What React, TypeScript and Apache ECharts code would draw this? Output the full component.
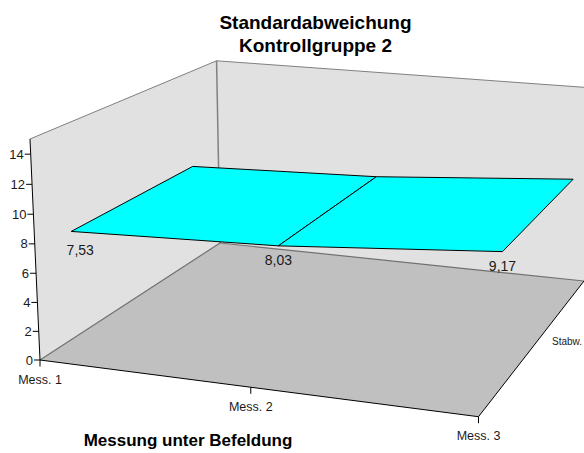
import React, { useEffect, useRef } from "react";
import * as echarts from "echarts";

const categories = ["Mess. 1", "Mess. 2", "Mess. 3"];
const stdDeviation = [7.53, 8.03, 9.17];
const valueTicks = [0, 2, 4, 6, 8, 10, 12, 14];
const depthLabel = "Stabw.";
const valueMax = 15;

const FONT = '"Liberation Sans", Arial, sans-serif';

// Perspective mapping of the unit box (u: category, v: value, w: depth) to the page.
const projX = [402.88, -10.93, 229.78, 40];
const projY = [25.68, -225.31, -62.02, 360];
const projD = [-0.07445, -0.031, 0.22625, 1];

const project = (u: number, v: number, w: number): [number, number] => {
  const den = projD[0] * u + projD[1] * v + projD[2] * w + projD[3];
  return [
    (projX[0] * u + projX[1] * v + projX[2] * w + projX[3]) / den,
    (projY[0] * u + projY[1] * v + projY[2] * w + projY[3]) / den,
  ];
};

const catU = (i: number) => i / (categories.length - 1);
const valV = (value: number) => value / valueMax;
const RIBBON_FRONT = 1 / 6;
const RIBBON_BACK = 5 / 6;

export default function App() {
  const ref = useRef<HTMLDivElement>(null);

  useEffect(() => {
    const chart = echarts.init(ref.current!, null, { renderer: "svg" });

    const toPts = (api: any, pts: [number, number, number][]) =>
      pts.map((p) => api.coord(project(p[0], p[1], p[2])));

    const poly = (points: number[][], fill: string) => ({
      type: "polygon",
      shape: { points },
      style: { fill, stroke: "none" },
    });
    const stroke = (a: number[], b: number[], color: string, lineWidth = 1) => ({
      type: "line",
      shape: { x1: a[0], y1: a[1], x2: b[0], y2: b[1] },
      style: { stroke: color, lineWidth, fill: "none" },
    });
    const label = (
      text: string,
      x: number,
      y: number,
      align: string,
      fontSize: number,
    ) => ({
      type: "text",
      x,
      y,
      style: {
        text,
        fill: "#1a1a1a",
        fontFamily: FONT,
        fontSize,
        align,
        verticalAlign: "middle",
      },
    });

    // Walls, floor, axes and their tick labels.
    const renderFrame = (_: any, api: any) => {
      const [a, b, c, d] = toPts(api, [
        [0, 0, 0],
        [1, 0, 0],
        [1, 0, 1],
        [0, 0, 1],
      ]);
      const [aTop, dTop, cTop] = toPts(api, [
        [0, 1, 0],
        [0, 1, 1],
        [1, 1, 1],
      ]);
      const children: any[] = [
        poly([a, aTop, dTop, d], "#e1e1e1"),
        poly([d, dTop, cTop, c], "#e1e1e1"),
        poly([a, b, c, d], "#c0c0c0"),
        stroke(aTop, dTop, "#808080"),
        stroke(dTop, cTop, "#808080"),
        stroke(dTop, d, "#808080", 1.5),
        stroke(a, d, "#707070", 1.2),
        stroke(d, c, "#707070", 1.2),
        stroke(a, aTop, "#000000"),
        stroke(a, b, "#000000"),
        stroke(b, c, "#000000"),
      ];
      valueTicks.forEach((t) => {
        const [p] = toPts(api, [[0, valV(t), 0]]);
        children.push(stroke([p[0] - 6, p[1]], p, "#000000"));
        children.push(label(String(t), p[0] - 7, p[1], "right", 13));
      });
      categories.forEach((name, i) => {
        const [p] = toPts(api, [[catU(i), 0, 0]]);
        children.push(stroke(p, [p[0], p[1] + 6.5], "#000000"));
        children.push(label(name, p[0], p[1] + 19.5, "center", 12.5));
      });
      const [m] = toPts(api, [[1, 0, 0.5]]);
      children.push(label(depthLabel, m[0] + 15, m[1], "left", 10));
      return { type: "group", children };
    };

    // One ribbon panel between a category and the next one.
    const renderPanel = (params: any, api: any) => {
      const i = params.dataIndex;
      if (i >= categories.length - 1) return null;
      const v0 = valV(api.value(1));
      const v1 = valV(stdDeviation[i + 1]);
      const [f0, f1, b1, b0] = toPts(api, [
        [catU(i), v0, RIBBON_FRONT],
        [catU(i + 1), v1, RIBBON_FRONT],
        [catU(i + 1), v1, RIBBON_BACK],
        [catU(i), v0, RIBBON_BACK],
      ]);
      return {
        type: "polygon",
        shape: { points: [f0, f1, b1, b0] },
        style: { fill: "#00ffff", stroke: "#000000", lineWidth: 1, lineJoin: "miter" },
      };
    };

    const renderValueLabel = (params: any, api: any) => {
      const i = params.dataIndex;
      const value = api.value(1);
      const [p] = toPts(api, [[catU(i), valV(value), RIBBON_FRONT]]);
      return label(
        value.toFixed(2).replace(".", ","),
        p[0] + (i === 0 ? 9 : 0),
        p[1] + (i === 0 ? 19 : 14),
        "center",
        14,
      );
    };

    const seriesData = stdDeviation.map((v, i) => [i, v]);

    chart.setOption({
      animation: false,
      backgroundColor: "#ffffff",
      title: [
        {
          text: "Standardabweichung\nKontrollgruppe 2",
          left: 310.5,
          top: 5.5,
          textAlign: "center",
          textStyle: {
            fontFamily: FONT,
            fontSize: 19,
            fontWeight: "bold",
            color: "#000000",
            lineHeight: 23,
          },
        },
        {
          text: "Messung unter Befeldung",
          left: 183,
          top: 425.5,
          textAlign: "center",
          textStyle: {
            fontFamily: FONT,
            fontSize: 17,
            fontWeight: "bold",
            color: "#000000",
            lineHeight: 20,
          },
        },
      ],
      grid: { left: 0, right: 0, top: 0, bottom: 0 },
      xAxis: { type: "value", min: 0, max: 584, show: false },
      yAxis: { type: "value", min: 0, max: 453, inverse: true, show: false },
      series: [
        { type: "custom", data: [[0, 0]], renderItem: renderFrame, silent: true, clip: true, z: 1 },
        { type: "custom", name: depthLabel, data: seriesData, renderItem: renderPanel, silent: true, clip: true, z: 2 },
        { type: "custom", data: seriesData, renderItem: renderValueLabel, silent: true, z: 3 },
      ],
    });

    return () => chart.dispose();
  }, []);

  return (
    <div
      ref={ref}
      style={{ position: "absolute", left: 0, top: 0, width: 584, height: 453 }}
    />
  );
}
